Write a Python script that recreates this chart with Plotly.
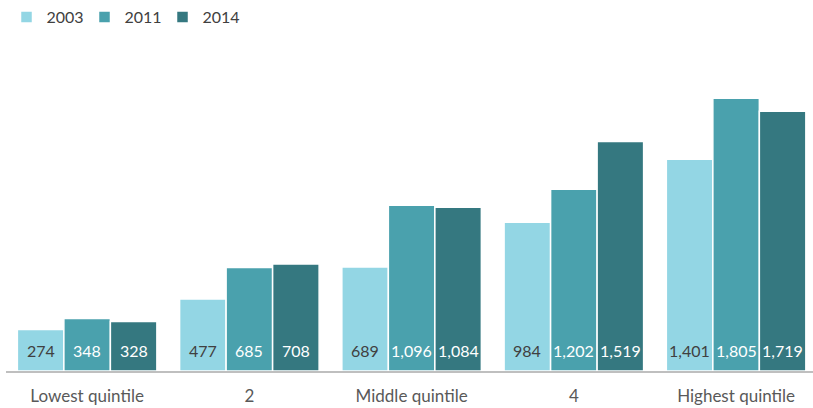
import plotly.graph_objects as go

categories = ["Lowest quintile", "2", "Middle quintile", "4", "Highest quintile"]
years = ["2003", "2011", "2014"]
values_2003 = [274, 477, 689, 984, 1401]
values_2011 = [348, 685, 1096, 1202, 1805]
values_2014 = [328, 708, 1084, 1519, 1719]

series = [values_2003, values_2011, values_2014]
colors = ["#93D6E4", "#4AA1AD", "#357880"]
text_colors = ["#404040", "#FFFFFF", "#FFFFFF"]

FONT = "Lato, 'Open Sans', sans-serif"
BARGAP = 0.14

fig = go.Figure()
for name, vals, col in zip(years, series, colors):
    fig.add_trace(go.Bar(
        name=name,
        x=list(range(len(categories))),
        y=vals,
        marker=dict(color=col, line=dict(color="white", width=1.5)),
        hoverinfo="skip",
    ))

# value labels near the foot of each bar
bar_w = (1 - BARGAP) / len(series)
for i, (vals, tcol) in enumerate(zip(series, text_colors)):
    off = (i - (len(series) - 1) / 2) * bar_w
    for j, v in enumerate(vals):
        fig.add_annotation(
            x=j + off, y=0, xref="x", yref="y",
            text=f"{v:,}", showarrow=False,
            yanchor="middle", yshift=21,
            font=dict(family=FONT, size=16, color=tcol),
        )

fig.update_layout(
    width=813, height=408,
    margin=dict(l=6, r=0, t=30, b=37),
    paper_bgcolor="white", plot_bgcolor="white",
    barmode="group", bargap=BARGAP, bargroupgap=0,
    font=dict(family=FONT, size=15, color="#595959"),
    showlegend=True,
    legend=dict(
        orientation="h", x=0.008, y=1.0, xref="container", yref="container",
        xanchor="left", yanchor="top",
        font=dict(family=FONT, size=16, color="#404040"),
        itemwidth=30, traceorder="normal",
        entrywidth=33, entrywidthmode="pixels",
    ),
    xaxis=dict(
        tickmode="array", tickvals=list(range(len(categories))), ticktext=categories,
        range=[-0.5, 4.474], showgrid=False, zeroline=False,
        showline=True, linecolor="#BFBFBF", linewidth=2,
        ticks="", ticklabelstandoff=9,
        tickfont=dict(family=FONT, size=17, color="#595959"),
    ),
    yaxis=dict(range=[0, 2230], visible=False, showgrid=False, zeroline=False),
)

fig.write_html("out.html")
